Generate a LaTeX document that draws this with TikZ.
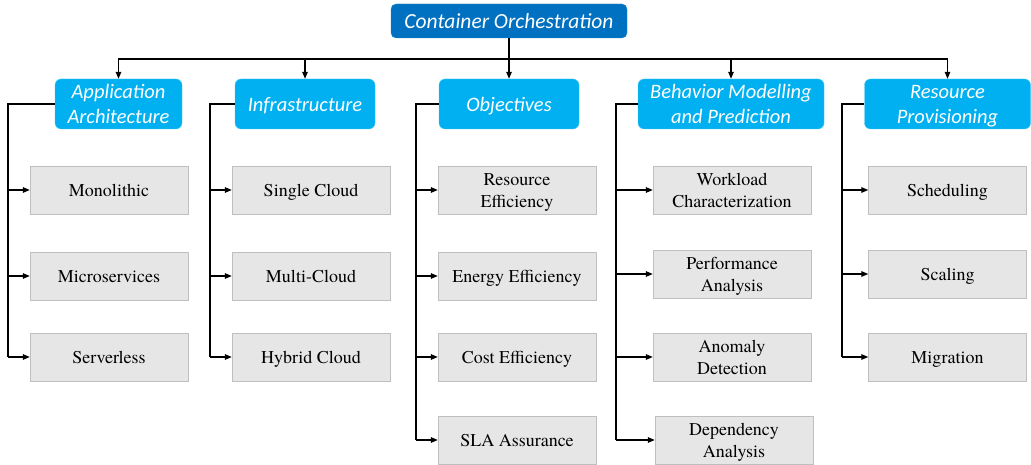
\documentclass[tikz,border=0pt]{standalone}
\usepackage{fontspec}
\newfontfamily\leaffont{texgyretermes-regular.otf}
\newfontfamily\calfont{Carlito}
\usetikzlibrary{arrows.meta}
\definecolor{topblue}{HTML}{0070C0}
\definecolor{lightblue}{HTML}{00B0F0}
\definecolor{leafgray}{HTML}{E7E6E6}
\definecolor{leafborder}{HTML}{BFBFBF}
\newcommand\lowtxt[2]{\raisebox{-#1}[\height][\depth]{\begin{tabular}{@{}c@{}}#2\end{tabular}}}
\begin{document}
\begin{tikzpicture}[x=1pt,y=-1pt,
  topbox/.style={fill=topblue,draw=topblue!80!white,rounded corners=5pt,text=white,
    font=\calfont\itshape\fontsize{21.5}{26}\selectfont,minimum width=236pt,minimum height=34pt,inner sep=0pt},
  catbox/.style={fill=lightblue,draw=lightblue!70!white,rounded corners=6pt,text=white,
    font=\calfont\itshape\fontsize{20.5}{25}\selectfont,minimum height=50pt,inner sep=0pt},
  leaf/.style={fill=leafgray,draw=leafborder,text=black,
    font=\leaffont\fontsize{18}{22}\selectfont,minimum width=158pt,minimum height=48pt,inner sep=0pt},
  conn/.style={line width=1.3pt,black},
  arr/.style={conn,-{Triangle[length=7pt,width=5.5pt]}}]
\useasboundingbox (0,0) rectangle (1031,465);
% top
\node[topbox] (top) at (509,21) {\lowtxt{2pt}{Container Orchestration}};
% categories
\node[catbox,minimum width=127pt] (aa) at (118.5,104) {\lowtxt{2.5pt}{Application\\Architecture}};
\node[catbox,minimum width=140pt] (inf) at (305,104) {\lowtxt{2.5pt}{Infrastructure}};
\node[catbox,minimum width=140pt] (obj) at (509,104) {\lowtxt{2.5pt}{Objectives}};
\node[catbox,minimum width=186pt] (beh) at (731,104) {\lowtxt{2.5pt}{Behavior Modelling\\and Prediction}};
\node[catbox,minimum width=166pt] (rp) at (947.5,104) {\lowtxt{2.5pt}{Resource\\Provisioning}};
% leaves col1
\node[leaf] (a1) at (109,190) {\lowtxt{2.5pt}{Monolithic}};
\node[leaf] (a2) at (109,276) {\lowtxt{2.5pt}{Microservices}};
\node[leaf] (a3) at (109,357) {\lowtxt{2.5pt}{Serverless}};
% col2
\node[leaf] (b1) at (311,190) {\lowtxt{2.5pt}{Single Cloud}};
\node[leaf] (b2) at (311,276) {\lowtxt{2.5pt}{Multi-Cloud}};
\node[leaf] (b3) at (311,357) {\lowtxt{2.5pt}{Hybrid Cloud}};
% col3
\node[leaf] (c1) at (517,190) {\lowtxt{2.5pt}{Resource\\Efficiency}};
\node[leaf] (c2) at (517,276) {\lowtxt{2.5pt}{Energy Efficiency}};
\node[leaf] (c3) at (517,357) {\lowtxt{2.5pt}{Cost Efficiency}};
\node[leaf] (c4) at (517,440) {\lowtxt{2.5pt}{SLA Assurance}};
% col4
\node[leaf] (d1) at (732,190) {\lowtxt{2.5pt}{Workload\\Characterization}};
\node[leaf] (d2) at (732,274) {\lowtxt{2.5pt}{Performance\\Analysis}};
\node[leaf] (d3) at (732,357) {\lowtxt{2.5pt}{Anomaly\\Detection}};
\node[leaf] (d4) at (734,440) {\lowtxt{2.5pt}{Dependency\\Analysis}};
% col5
\node[leaf] (e1) at (947.5,190) {\lowtxt{2.5pt}{Scheduling}};
\node[leaf] (e2) at (947.5,274) {\lowtxt{2.5pt}{Scaling}};
\node[leaf] (e3) at (947.5,357) {\lowtxt{2.5pt}{Migration}};
% top connectors
\coordinate (bus) at (509,59);
\draw[conn] (top.south) -- (bus);
\draw[arr] (bus) -| (aa.north);
\draw[arr] (bus) -| (inf.north);
\draw[arr] (bus) -- (obj.north);
\draw[arr] (bus) -| (beh.north);
\draw[arr] (bus) -| (rp.north);
% branches
\coordinate (av) at (8,104);
\draw[conn] (aa.west) -- (av) -- (av |- a3.west);
\foreach \n in {a1,a2,a3} \draw[arr] (av |- \n.west) -- (\n.west);
\coordinate (bv) at (210,104);
\draw[conn] (inf.west) -- (bv) -- (bv |- b3.west);
\foreach \n in {b1,b2,b3} \draw[arr] (bv |- \n.west) -- (\n.west);
\coordinate (cv) at (416,104);
\draw[conn] (obj.west) -- (cv) -- (cv |- c4.west);
\foreach \n in {c1,c2,c3,c4} \draw[arr] (cv |- \n.west) -- (\n.west);
\coordinate (dv) at (616,104);
\draw[conn] (beh.west) -- (dv) -- (dv |- d4.west);
\foreach \n in {d1,d2,d3,d4} \draw[arr] (dv |- \n.west) -- (\n.west);
\coordinate (ev) at (842,104);
\draw[conn] (rp.west) -- (ev) -- (ev |- e3.west);
\foreach \n in {e1,e2,e3} \draw[arr] (ev |- \n.west) -- (\n.west);
\end{tikzpicture}
\end{document}
